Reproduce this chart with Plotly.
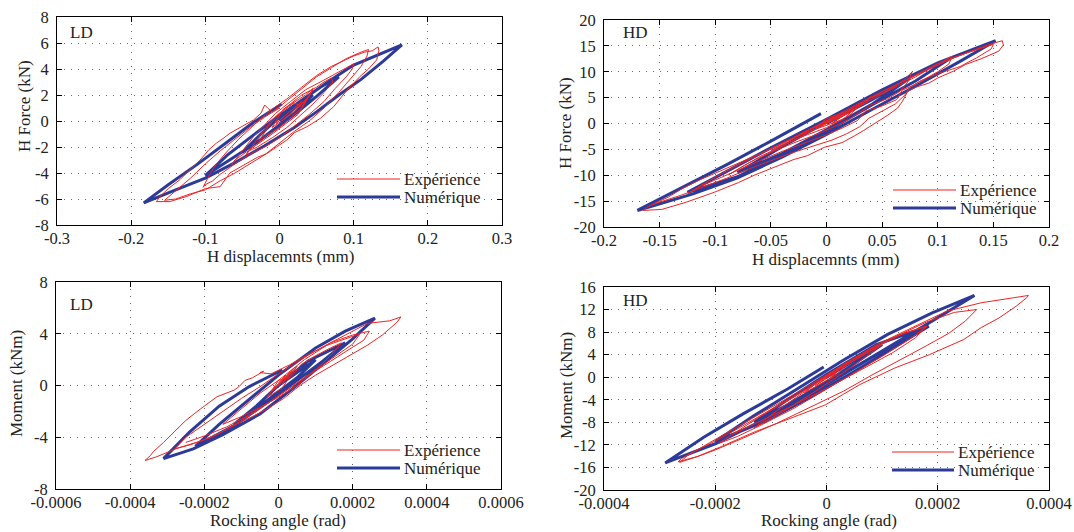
import plotly.graph_objects as go

# ---------------- data ----------------
# Panel 1: LD, H force (kN) vs H displacement (mm)
ld_fd_num_x = [0.0, 0.02, 0.045, 0.02, 0.0, -0.025, -0.05, -0.025, 0.0, 0.03, 0.055, 0.08,
               0.05, 0.02, -0.01, -0.04, -0.07, -0.1, -0.07, -0.04, -0.01, 0.03, 0.07, 0.1, 0.13, 0.165,
               0.14, 0.11, 0.08, 0.05, 0.02, -0.02, -0.06, -0.1, -0.14, -0.183,
               -0.15, -0.11, -0.07, -0.035, 0.003]
ld_fd_num_y = [0.0, 1.0, 2.0, 0.6, -0.3, -1.4, -2.4, -1.0, 0.3, 1.6, 2.6, 3.4,
               1.9, 0.5, -0.8, -2.0, -3.1, -4.2, -2.6, -1.3, 0.0, 1.6, 3.2, 4.3, 5.0, 5.85,
               4.6, 3.2, 2.0, 0.7, -0.5, -1.9, -3.2, -4.4, -5.3, -6.3,
               -4.9, -3.3, -1.6, -0.1, 1.3]
ld_fd_exp_pts = [
    (0.005, 0.3), (0.02, 1.0), (-0.005, -0.2), (0.03, 1.5), (0.012, 0.4), (0.04, 1.9), (0.02, 0.7),
    (-0.01, -0.5), (0.005, 0.9), (0.035, 2.0), (0.045, 2.5), (0.03, 1.0), (0.0, -0.5), (-0.02, -1.2),
    (-0.03, -1.8), (-0.015, -0.4), (0.0, 0.6), (0.02, 1.4), (0.03, 1.1), (0.045, 2.4), (0.025, 0.5),
    (-0.01, -1.0), (-0.04, -2.2), (-0.045, -2.6), (-0.03, -1.4), (-0.01, 0.1), (0.01, 1.1), (0.03, 2.0),
    (0.05, 2.6), (0.06, 3.0), (0.07, 3.3), (0.072, 3.0), (0.06, 2.2), (0.045, 1.3), (0.03, 0.5),
    (0.01, -0.5), (-0.01, -1.3), (-0.03, -2.0), (-0.045, -2.4), (-0.06, -3.0), (-0.065, -3.4),
    (-0.05, -2.3), (-0.035, -1.2), (-0.02, -0.3), (-0.005, 0.6), (0.015, 1.5), (0.035, 2.4),
    (0.055, 3.0), (0.075, 3.6), (0.09, 4.1), (0.1, 4.4), (0.098, 4.0),
    (0.09, 3.4), (0.075, 2.5), (0.06, 1.5), (0.04, 0.5), (0.02, -0.4), (0.0, -1.3), (-0.02, -2.0),
    (-0.035, -2.4), (-0.05, -2.9), (-0.065, -3.5), (-0.08, -4.1), (-0.09, -4.6), (-0.1, -4.9), (-0.103, -5.1),
    (-0.095, -4.2), (-0.085, -3.3), (-0.07, -2.3), (-0.055, -1.4), (-0.04, -0.6), (-0.025, 0.2),
    (-0.01, 0.9), (0.01, 1.7), (0.03, 2.6), (0.05, 3.5), (0.07, 4.2), (0.09, 4.7), (0.1, 5.0),
    (0.115, 5.3), (0.125, 5.4), (0.133, 5.7), (0.134, 5.4),
    (0.131, 4.7), (0.12, 4.0), (0.108, 3.4), (0.09, 2.3), (0.073, 1.1), (0.055, 0.2), (0.037, -0.44),
    (0.02, -0.9), (0.01, -1.46), (-0.005, -2.0), (-0.017, -2.5), (-0.03, -2.8), (-0.044, -3.25),
    (-0.055, -3.6), (-0.067, -4.0), (-0.08, -5.05), (-0.1, -5.2), (-0.125, -5.8), (-0.148, -6.2), (-0.166, -6.2),
    (-0.161, -5.8), (-0.15, -5.2), (-0.134, -4.5), (-0.12, -3.7), (-0.107, -3.0), (-0.095, -2.2),
    (-0.085, -1.7), (-0.075, -1.3), (-0.067, -0.95), (-0.05, -0.4), (-0.035, 0.08), (-0.025, 0.6),
    (-0.02, 1.23), (-0.016, 1.0), (-0.01, 0.7), (0.0, 1.1), (0.015, 1.8), (0.03, 2.5),
    (0.05, 3.4), (0.07, 4.1), (0.09, 4.8), (0.11, 5.3), (0.12, 5.5), (0.118, 5.0), (0.11, 4.2),
    (0.095, 3.2), (0.08, 2.2), (0.06, 1.0), (0.04, 0.0), (0.02, -0.8), (0.0, -1.7), (-0.02, -2.6),
    (-0.04, -3.3), (-0.06, -4.0), (-0.08, -4.6), (-0.1, -5.3), (-0.12, -5.6), (-0.14, -6.0), (-0.155, -6.1),
    (-0.14, -5.4), (-0.12, -4.4), (-0.1, -3.3), (-0.08, -2.3), (-0.06, -1.4), (-0.04, -0.5),
    (-0.02, 0.3), (0.0, 1.0)]

# Panel 2: HD, H force (kN) vs H displacement (mm)
hd_fd_num_x = [0.0, 0.04, 0.075, 0.04, 0.0, -0.04, -0.08, -0.04, 0.0, 0.04, 0.08, 0.112,
               0.08, 0.04, 0.0, -0.04, -0.08, -0.125, -0.09, -0.05, 0.0, 0.05, 0.1, 0.152,
               0.12, 0.08, 0.04, 0.0, -0.04, -0.08, -0.12, -0.17,
               -0.13, -0.09, -0.05, -0.005]
hd_fd_num_y = [0.0, 4.5, 8.8, 3.6, -1.2, -5.8, -9.5, -4.5, 0.3, 5.0, 9.6, 12.7,
               8.2, 3.5, -1.5, -6.0, -10.3, -13.3, -9.3, -4.7, 0.8, 6.5, 11.7, 16.0,
               12.0, 7.2, 2.6, -2.1, -6.5, -10.5, -13.6, -16.8,
               -12.4, -8.0, -3.4, 1.9]
hd_fd_exp_pts = [
    (0.0, 0.5), (0.01, 1.5), (-0.005, -0.5), (0.015, 1.8), (0.005, 0.0), (0.02, 2.2), (-0.01, -1.0),
    (0.0, 1.0), (0.025, 2.8), (0.015, 0.8), (-0.015, -1.5), (-0.03, -2.8), (-0.02, -1.6), (0.0, 0.2),
    (0.02, 2.0), (0.035, 4.0), (0.04, 5.2), (0.03, 3.5), (0.02, 1.5), (0.0, -0.8), (-0.02, -2.4),
    (-0.04, -4.2), (-0.05, -5.2), (-0.035, -3.5), (-0.015, -1.2), (0.005, 0.8), (0.025, 3.0),
    (0.04, 5.0), (0.05, 5.8),
    (0.06, 7.0), (0.07, 8.5), (0.077, 10.0), (0.073, 8.0), (0.066, 6.2), (0.055, 4.8), (0.04, 3.6),
    (0.03, 2.2), (0.02, 0.8), (0.005, -0.8), (-0.01, -2.2), (-0.03, -3.8), (-0.05, -5.6), (-0.07, -7.6),
    (-0.085, -9.5), (-0.088, -9.9),
    (-0.075, -8.2), (-0.06, -6.4), (-0.04, -4.4), (-0.02, -2.2), (0.0, 0.0), (0.02, 2.2), (0.04, 4.6),
    (0.06, 6.8), (0.08, 9.0), (0.095, 10.9), (0.105, 12.0), (0.113, 13.0),
    (0.11, 11.5), (0.1, 10.0), (0.09, 8.8), (0.078, 7.4), (0.068, 6.4), (0.063, 4.6), (0.05, 3.4),
    (0.035, 2.4), (0.028, 0.6), (0.015, -0.8), (0.0, -2.2), (-0.02, -3.8), (-0.04, -5.4), (-0.06, -7.2),
    (-0.08, -9.0), (-0.1, -10.9), (-0.115, -12.3), (-0.122, -13.2),
    (-0.11, -11.6), (-0.09, -9.2), (-0.07, -7.0), (-0.05, -4.8), (-0.03, -2.8), (-0.01, -0.5),
    (0.01, 1.8), (0.03, 4.0), (0.05, 6.2), (0.07, 8.2), (0.09, 10.3), (0.11, 12.3), (0.13, 14.0),
    (0.145, 15.2), (0.158, 16.0), (0.159, 15.2),
    (0.155, 14.0), (0.139, 12.5), (0.125, 11.4), (0.114, 10.1), (0.1, 8.8), (0.092, 7.8), (0.08, 7.0),
    (0.073, 6.2), (0.068, 4.2), (0.064, 3.0), (0.055, 1.6), (0.045, 0.2), (0.033, -1.4), (0.025, -2.4),
    (0.014, -3.7), (-0.002, -4.6), (-0.017, -6.2), (-0.03, -7.0), (-0.048, -8.5), (-0.065, -10.0),
    (-0.079, -11.4), (-0.101, -13.3), (-0.126, -15.2), (-0.148, -16.6), (-0.165, -16.8),
    (-0.16, -16.0), (-0.15, -15.0), (-0.142, -14.2), (-0.13, -12.6), (-0.115, -11.0), (-0.1, -9.6),
    (-0.085, -8.2), (-0.07, -6.8), (-0.055, -5.4), (-0.04, -3.8), (-0.025, -2.2), (-0.01, -0.6), (0.0, 0.6),
    (0.02, 2.6), (0.04, 5.0), (0.06, 7.2), (0.08, 9.4), (0.1, 11.6), (0.12, 13.2), (0.14, 14.6),
    (0.15, 15.3), (0.148, 14.4), (0.135, 12.7), (0.12, 11.0), (0.1, 9.6), (0.085, 8.3), (0.075, 7.0),
    (0.07, 5.4), (0.062, 3.8), (0.05, 2.4), (0.038, 1.0), (0.03, -0.6), (0.018, -2.0), (0.005, -3.2),
    (-0.01, -4.2), (-0.03, -5.6), (-0.05, -7.2), (-0.07, -8.8), (-0.09, -10.6), (-0.11, -12.2),
    (-0.13, -13.8), (-0.15, -15.2), (-0.16, -16.0)]

# Panel 3: LD, moment (kNm) vs rocking angle (rad)
ld_mr_num_x = [0.0, 0.5e-4, 1.0e-4, 0.5e-4, 0.0, -0.6e-4, -1.2e-4, -0.6e-4, 0.0, 0.8e-4, 1.8e-4,
               1.2e-4, 0.5e-4, -0.3e-4, -1.2e-4, -2.24e-4, -1.6e-4, -0.8e-4, 0.0, 1.0e-4, 1.8e-4, 2.6e-4,
               2.0e-4, 1.2e-4, 0.4e-4, -0.5e-4, -1.5e-4, -2.3e-4, -3.1e-4,
               -2.4e-4, -1.6e-4, -0.8e-4, 0.1e-4]
ld_mr_num_y = [0.0, 1.0, 2.0, 0.6, -0.5, -1.8, -3.0, -1.6, 0.0, 1.9, 3.3,
               1.9, 0.4, -1.3, -3.1, -4.7, -3.0, -1.1, 0.8, 2.9, 4.2, 5.2,
               3.6, 1.7, -0.2, -2.2, -3.8, -4.9, -5.65,
               -3.6, -1.6, -0.1, 1.2]
ld_mr_exp_pts = [
    (0.0, 0.2), (0.2e-4, 0.8), (-0.1e-4, -0.3), (0.4e-4, 1.3), (0.1e-4, 0.1), (0.3e-4, 1.0),
    (-0.2e-4, -0.5), (0.2e-4, 0.5), (0.5e-4, 1.5), (0.1e-4, -0.2), (-0.3e-4, -0.9), (0.0, 0.4),
    (0.3e-4, 0.6), (0.5e-4, 1.2),
    (0.6e-4, 1.6), (1.0e-4, 2.3), (1.4e-4, 2.9), (1.7e-4, 3.3), (1.4e-4, 2.3), (1.0e-4, 1.2),
    (0.5e-4, 0.0), (0.0, -0.9), (-0.5e-4, -1.7), (-1.0e-4, -2.4), (-1.5e-4, -3.0),
    (-1.0e-4, -1.8), (-0.5e-4, -0.6), (0.0, 0.4), (0.7e-4, 2.0), (1.4e-4, 3.3), (2.0e-4, 3.9), (2.45e-4, 4.2),
    (2.3e-4, 3.5), (1.8e-4, 2.6), (1.2e-4, 1.5), (0.6e-4, 0.4), (0.0, -0.8), (-0.6e-4, -2.0),
    (-1.2e-4, -3.1), (-1.8e-4, -4.0), (-2.4e-4, -4.6), (-2.8e-4, -4.9),
    (-2.5e-4, -4.0), (-2.0e-4, -3.0), (-1.5e-4, -2.0), (-1.0e-4, -1.0), (-0.5e-4, -0.1), (0.0, 0.9),
    (0.6e-4, 2.0), (1.2e-4, 3.0), (1.8e-4, 3.9), (2.4e-4, 4.8), (3.0e-4, 5.0), (3.3e-4, 5.3), (3.2e-4, 4.9),
    (3.1e-4, 4.65), (2.8e-4, 3.9), (2.39e-4, 3.1), (1.9e-4, 2.3), (1.49e-4, 1.57), (1.0e-4, 0.8),
    (0.59e-4, 0.03), (0.14e-4, -1.0), (-0.31e-4, -1.8), (-0.7e-4, -2.4), (-1.2e-4, -3.06),
    (-1.6e-4, -3.7), (-2.1e-4, -4.3), (-2.74e-4, -4.86), (-3.28e-4, -5.5), (-3.6e-4, -5.8),
    (-3.45e-4, -5.4), (-3.37e-4, -5.1), (-3.1e-4, -4.4), (-2.83e-4, -3.6), (-2.5e-4, -2.7),
    (-2.1e-4, -1.8), (-1.66e-4, -0.87), (-1.2e-4, -0.36), (-1.07e-4, -0.1), (-0.9e-4, 0.4),
    (-0.7e-4, 0.6), (-0.4e-4, 1.1), (-0.5e-4, 1.0), (-0.2e-4, 0.9), (0.3e-4, 1.6), (0.8e-4, 2.4),
    (1.3e-4, 3.1), (1.8e-4, 3.6), (2.2e-4, 4.0), (2.0e-4, 3.2), (1.5e-4, 2.2), (1.0e-4, 1.2),
    (0.4e-4, 0.0), (-0.2e-4, -1.2), (-0.8e-4, -2.3), (-1.4e-4, -3.2), (-2.0e-4, -3.9), (-2.5e-4, -4.4)]

# Panel 4: HD, moment (kNm) vs rocking angle (rad)
hd_mr_num_x = [0.0, 0.5e-4, 1.0e-4, 0.5e-4, 0.0, -0.7e-4, -1.3e-4, -0.7e-4, 0.0, 0.9e-4, 1.84e-4,
               1.2e-4, 0.5e-4, -0.3e-4, -1.1e-4, -2.0e-4, -1.3e-4, -0.5e-4, 0.3e-4, 1.1e-4, 1.9e-4, 2.66e-4,
               2.0e-4, 1.3e-4, 0.5e-4, -0.3e-4, -1.1e-4, -2.0e-4, -2.9e-4,
               -2.2e-4, -1.5e-4, -0.7e-4, -0.05e-4]
hd_mr_num_y = [0.0, 3.0, 5.8, 2.4, -0.8, -4.9, -8.0, -4.0, 0.5, 5.8, 9.05,
               5.2, 1.0, -3.6, -7.8, -11.4, -6.8, -1.9, 3.0, 7.6, 11.4, 14.5,
               10.5, 6.4, 1.7, -3.0, -7.4, -11.8, -15.2,
               -10.6, -6.5, -2.1, 1.8]
hd_mr_exp_pts = [
    (0.0, 0.2), (0.2e-4, 1.5), (0.05e-4, -0.5), (0.3e-4, 2.2), (0.1e-4, 0.4), (-0.2e-4, -1.5),
    (0.15e-4, 1.0), (0.4e-4, 2.8), (0.2e-4, 0.5), (-0.4e-4, -2.8), (-0.1e-4, -0.4), (0.3e-4, 1.8),
    (0.5e-4, 3.0), (1.0e-4, 5.8), (0.7e-4, 3.6), (0.3e-4, 0.8), (-0.2e-4, -2.5), (-0.7e-4, -5.6), (-1.3e-4, -9.0),
    (-0.9e-4, -6.0), (-0.4e-4, -2.6), (0.2e-4, 1.5), (0.8e-4, 5.0), (1.3e-4, 7.5), (1.8e-4, 9.0),
    (1.5e-4, 6.8), (1.0e-4, 3.7), (0.5e-4, 0.8), (0.0, -2.2), (-0.6e-4, -5.6), (-1.2e-4, -8.6),
    (-1.6e-4, -10.5), (-1.95e-4, -11.8),
    (-1.6e-4, -9.5), (-1.2e-4, -7.0), (-0.6e-4, -3.6), (0.0, 0.0), (0.6e-4, 3.6), (1.2e-4, 7.0),
    (1.8e-4, 9.8), (2.3e-4, 11.5), (2.7e-4, 12.0),
    (2.5e-4, 10.0), (2.2e-4, 7.8), (1.8e-4, 5.6), (1.3e-4, 3.0), (0.8e-4, 0.3), (0.3e-4, -2.5),
    (-0.3e-4, -5.3), (-0.9e-4, -8.2), (-1.5e-4, -10.8), (-2.0e-4, -12.9), (-2.3e-4, -14.0), (-2.67e-4, -15.0),
    (-2.6e-4, -14.4), (-2.39e-4, -13.2), (-2.02e-4, -11.4), (-1.58e-4, -9.05), (-0.96e-4, -5.5),
    (-0.33e-4, -1.9), (0.29e-4, 2.2), (0.91e-4, 5.8), (1.54e-4, 8.8), (2.16e-4, 11.7),
    (2.78e-4, 13.2), (3.3e-4, 14.0), (3.63e-4, 14.5),
    (3.6e-4, 14.1), (3.41e-4, 12.6), (3.1e-4, 10.5), (2.78e-4, 8.8), (2.47e-4, 6.7), (1.85e-4, 4.0),
    (1.22e-4, 1.6), (0.6e-4, -1.3), (0.29e-4, -3.1), (-0.02e-4, -4.9), (-0.65e-4, -7.3),
    (-1.27e-4, -9.6), (-1.89e-4, -12.3), (-2.33e-4, -14.1), (-2.64e-4, -15.1),
    (-2.5e-4, -13.9), (-2.1e-4, -11.6), (-1.6e-4, -8.8), (-1.0e-4, -5.4), (-0.4e-4, -2.0),
    (0.2e-4, 1.6), (0.8e-4, 5.0), (1.4e-4, 7.8), (1.8e-4, 9.1), (1.6e-4, 7.0), (1.2e-4, 4.4),
    (0.6e-4, 1.2), (0.0, -2.0), (-0.6e-4, -5.0), (-1.2e-4, -7.8), (-1.7e-4, -10.2)]

# tick values / labels
x1_ticks = [-0.3, -0.2, -0.1, 0, 0.1, 0.2, 0.3]
x1_text = ["-0.3", "-0.2", "-0.1", "0", "0.1", "0.2", "0.3"]
y1_ticks = [-8, -6, -4, -2, 0, 2, 4, 6, 8]
x2_ticks = [-0.2, -0.15, -0.1, -0.05, 0, 0.05, 0.1, 0.15, 0.2]
x2_text = ["-0.2", "-0.15", "-0.1", "-0.05", "0", "0.05", "0.1", "0.15", "0.2"]
y2_ticks = [-20, -15, -10, -5, 0, 5, 10, 15, 20]
x3_ticks = [-0.0006, -0.0004, -0.0002, 0, 0.0002, 0.0004, 0.0006]
x3_text = ["-0.0006", "-0.0004", "-0.0002", "0", "0.0002", "0.0004", "0.0006"]
y3_ticks = [-8, -4, 0, 4, 8]
x4_ticks = [-0.0004, -0.0002, 0, 0.0002, 0.0004]
x4_text = ["-0.0004", "-0.0002", "0", "0.0002", "0.0004"]
y4_ticks = [-20, -16, -12, -8, -4, 0, 4, 8, 12, 16]

legend_names = ["Expérience", "Numérique"]
panel_tags = ["LD", "HD", "LD", "HD"]
xtitles = ["H displacemnts (mm)", "H displacemnts (mm)", "Rocking angle (rad)", "Rocking angle (rad)"]
ytitles = ["H Force (kN)", "H Force (kN)", "Moment (kNm)", "Moment (kNm)"]

# ---------------- style ----------------
W, H = 1074, 532
RED = "#ec2424"
BLUE = "#2c3b98"
FONT = "Liberation Serif"
TXT = "#222222"
FS = 17
FS_TICK = 16.5

fig = go.Figure()

panels = [
    (ld_fd_exp_pts, ld_fd_num_x, ld_fd_num_y, "x", "y"),
    (hd_fd_exp_pts, hd_fd_num_x, hd_fd_num_y, "x2", "y2"),
    (ld_mr_exp_pts, ld_mr_num_x, ld_mr_num_y, "x3", "y3"),
    (hd_mr_exp_pts, hd_mr_num_x, hd_mr_num_y, "x4", "y4"),
]
for pts, nx, ny, xa, ya in panels:
    fig.add_trace(go.Scatter(x=nx, y=ny, mode="lines", line=dict(color=BLUE, width=3),
                             xaxis=xa, yaxis=ya, showlegend=False, name=legend_names[1]))
    fig.add_trace(go.Scatter(x=[p[0] for p in pts], y=[p[1] for p in pts], mode="lines",
                             line=dict(color=RED, width=1), xaxis=xa, yaxis=ya,
                             showlegend=False, name=legend_names[0]))

# pixel boxes of the four plot areas: (left, right, top, bottom)
boxes = [(57, 502, 17, 225), (604, 1049, 20, 227), (56, 501, 282, 489), (604, 1049, 287, 490)]
xr = [[-0.3, 0.3], [-0.2, 0.2], [-0.0006, 0.0006], [-0.0004, 0.0004]]
yr = [[-8, 8], [-20, 20], [-8, 8], [-20, 16]]
xt = [(x1_ticks, x1_text), (x2_ticks, x2_text), (x3_ticks, x3_text), (x4_ticks, x4_text)]
yt = [y1_ticks, y2_ticks, y3_ticks, y4_ticks]

common = dict(showline=True, linecolor="black", linewidth=1, mirror="ticks", ticks="inside",
              ticklen=5, tickcolor="black", showgrid=True, gridcolor="#6a6a6a", gridwidth=1,
              griddash="1px,6px", zeroline=False, automargin=False,
              tickfont=dict(family=FONT, size=FS_TICK, color=TXT))
for i, (l, r, t, b) in enumerate(boxes):
    sx = "" if i == 0 else str(i + 1)
    fig.layout["xaxis" + sx] = dict(common, domain=[l / W, r / W], anchor="y" + sx, range=xr[i],
                                    tickvals=xt[i][0], ticktext=xt[i][1], ticklabelstandoff=-2)
    fig.layout["yaxis" + sx] = dict(common, domain=[1 - b / H, 1 - t / H], anchor="x" + sx, range=yr[i],
                                    tickvals=yt[i], ticktext=[str(v) for v in yt[i]], ticklabelstandoff=4)

shapes = []
annotations = []
tag_pos = [(68, 33), (621, 33), (68, 304), (621, 300)]
xtitle_pos = [(280, 256), (825, 259), (278, 520), (829, 520)]
ytitle_pos = [(24, 106), (566, 123), (16, 384), (566, 386)]
leg_pos = [(337, 400, 179, 197), (893, 956, 190, 208), (337, 400, 450, 468), (892, 954, 452, 470)]


def ann(text, px, py, angle=0, anchor="center"):
    return dict(text=text, x=px / W, y=1 - py / H, xref="paper", yref="paper", xanchor=anchor,
                yanchor="middle", showarrow=False, textangle=angle,
                font=dict(family=FONT, size=FS, color=TXT))


for i in range(4):
    annotations.append(ann(panel_tags[i], *tag_pos[i], anchor="left"))
    annotations.append(ann(xtitles[i], *xtitle_pos[i]))
    annotations.append(ann(ytitles[i], *ytitle_pos[i], angle=-90))
    x0, x1, yr_, yb_ = leg_pos[i]
    shapes.append(dict(type="line", xref="paper", yref="paper", x0=x0 / W, x1=x1 / W,
                       y0=1 - yr_ / H, y1=1 - yr_ / H, line=dict(color=RED, width=1)))
    shapes.append(dict(type="line", xref="paper", yref="paper", x0=x0 / W, x1=x1 / W,
                       y0=1 - yb_ / H, y1=1 - yb_ / H, line=dict(color=BLUE, width=3)))
    annotations.append(ann(legend_names[0], x1 + 2, yr_, anchor="left"))
    annotations.append(ann(legend_names[1], x1 + 2, yb_, anchor="left"))

fig.update_layout(width=W, height=H, margin=dict(l=0, r=0, t=0, b=0), paper_bgcolor="white",
                  plot_bgcolor="white", showlegend=False, shapes=shapes, annotations=annotations,
                  font=dict(family=FONT, color=TXT))

fig.write_html("out.html", config={"displayModeBar": False},
               post_script="document.body.style.margin='0';document.body.style.overflow='hidden';")
